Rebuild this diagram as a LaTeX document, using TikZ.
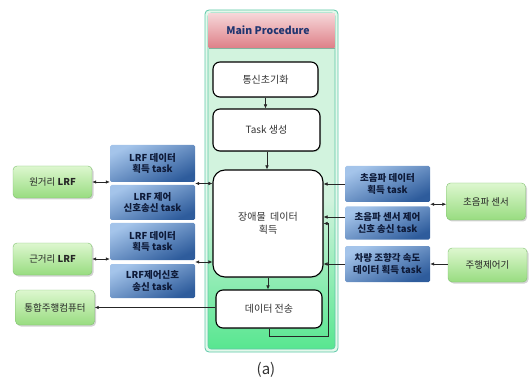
\documentclass[tikz,border=0pt]{standalone}
\usepackage{fontspec}
\setmainfont{Noto Sans CJK KR}
\usetikzlibrary{shadows,arrows.meta,calc}
\definecolor{panelline}{HTML}{5CC8A8}
\definecolor{panelpale}{HTML}{D2F3DE}
\definecolor{panelgreen}{HTML}{58E690}
\definecolor{pinkL}{HTML}{F6D6D8}
\definecolor{pinkD}{HTML}{DE8088}
\definecolor{headtext}{HTML}{1F3570}
\definecolor{blueL}{HTML}{A4C4EA}
\definecolor{blueD}{HTML}{2E5C9C}
\definecolor{greenL}{HTML}{DDF7CF}
\definecolor{greenD}{HTML}{98DC80}
\definecolor{greenline}{HTML}{80C070}
\definecolor{tasktext}{HTML}{0E1A38}
\begin{document}
\begin{tikzpicture}[x=1pt,y=-1pt,
  whitebox/.style={draw=black, line width=1.1pt, rounded corners=7pt, fill=white,
    drop shadow={opacity=0.25,shadow xshift=1pt,shadow yshift=-1pt},
    align=center, font=\fontsize{10}{12.5}\selectfont, text=black!80, inner sep=2pt},
  taskbox/.style={rectangle, rounded corners=1.5pt, top color=blueL, bottom color=blueD, shading angle=25,
    align=center, font=\fontsize{9.5}{11.5}\selectfont\bfseries, text=tasktext, inner sep=0.5pt,
    minimum width=85pt},
  greenbox/.style={draw=greenline, line width=0.4pt, rounded corners=4pt, top color=greenL, bottom color=greenD,
    drop shadow={opacity=0.35,shadow xshift=1.5pt,shadow yshift=-1.5pt},
    align=center, font=\fontsize{9.5}{11}\selectfont, text=black!85, inner sep=1pt, minimum width=79pt},
  conn/.style={line width=0.6pt, draw=black!85},
  tip/.style={-{Latex[length=4pt,width=3.5pt]}},
  tips/.style={{Latex[length=4pt,width=3.5pt]}-{Latex[length=4pt,width=3.5pt]}}
]
\useasboundingbox (0,0) rectangle (530,390);
% panel
\draw[panelline, line width=0.8pt, rounded corners=4pt, fill=panelpale!60!white] (205,10) rectangle (338,352);
\shade[rounded corners=3pt, top color=panelpale, bottom color=panelgreen, middle color=panelpale] (208,48) rectangle (335,349);
\draw[panelline, line width=0.6pt, rounded corners=3pt] (208,13) rectangle (335,349);
\shade[top color=pinkL, bottom color=pinkD] (208.5,13.5) rectangle (334.5,48);
\draw[panelline!70!pinkD, line width=0.5pt] (208.5,48) -- (334.5,48);
\node[font=\fontsize{10.5}{12}\selectfont\bfseries, text=headtext] (head) at (268,30) {Main Procedure};
% white boxes
\node[whitebox, minimum width=105pt, minimum height=35pt] (comm) at (265.5,79.5) {통신초기화};
\node[whitebox, minimum width=107pt, minimum height=42pt] (tgen) at (266.5,130) {Task 생성};
\node[whitebox, rounded corners=12pt, minimum width=110pt, minimum height=107pt] (big) at (268,223.5) {장애물\ \ 데이터\\획득};
\node[whitebox, minimum width=106pt, minimum height=38pt] (send) at (269,309) {데이터 전송};
% left tasks
\node[taskbox, minimum height=37pt] (t1) at (152.5,163.5) {LRF 데이터\\획득 task};
\node[taskbox, minimum height=35pt] (t2) at (152.5,202.5) {LRF 제어\\신호송신 task};
\node[taskbox, minimum height=37pt] (t3) at (152.5,241.5) {LRF 데이터\\획득 task};
\node[taskbox, minimum height=34pt] (t4) at (152.5,281) {LRF제어신호\\송신 task};
% right tasks
\node[taskbox, minimum height=36pt] (r1) at (387.5,184) {초음파 데이터\\획득 task};
\node[taskbox, minimum height=33pt] (r2) at (387.5,223) {초음파 센서 제어\\신호 송신 task};
\node[taskbox, minimum height=36pt] (r3) at (387.5,264) {차량 조향각 속도\\데이터 획득 task};
% green boxes
\node[greenbox, minimum height=32pt] (lfar) at (52.5,182) {원거리 \textbf{LRF}};
\node[greenbox, minimum height=32pt] (lnear) at (52.5,259) {근거리 \textbf{LRF}};
\node[greenbox, minimum height=35pt] (ipc) at (55,307.5) {통합주행컴퓨터};
\node[greenbox, minimum height=37pt] (usens) at (486,201.5) {초음파 센서};
\node[greenbox, minimum height=34pt] (drive) at (487.5,265) {주행제어기};
% flow arrows
\draw[conn,tip] (comm.south) -- (comm.south |- tgen.north);
\coordinate (tg) at ($(tgen.south)+(0.5,0)$);
\draw[conn,tip] (tg) -- (tg |- big.north);
\draw[conn,tip] (big.south) -- (big.south |- send.north);
\coordinate (loopA) at ($(send.south)+(0,8)$);
\coordinate (loopB) at ($(big.east)+(5,0)$);
\draw[conn,tip] (send.south) -- (loopA) -| (loopB) -- (big.east);
% left connectors
\coordinate (l12) at ($(t1.south east)!0.5!(t2.north east)$);
\coordinate (l34) at ($(t3.south east)!0.5!(t4.north east)$);
\draw[conn,tips] (l12) -- (l12 -| big.west);
\draw[conn,tips] (l34) -- (l34 -| big.west);
\draw[conn,tips] (lfar.east) -- (lfar.east -| t1.west);
\draw[conn,tips] (lnear.east) -- (lnear.east -| t3.west);
\draw[conn,tip] (send.west |- ipc.east) -- (ipc.east);
% right connectors
\coordinate (r2a) at ($(r2.west)+(0,-6)$);
\draw[conn,tip] (r1.west) -- (r1.west -| big.east);
\draw[conn,tip] (r2a) -- (r2a -| big.east);
\draw[conn,tip] (r3.west) -- (r3.west -| big.east);
\coordinate (r12) at ($(r1.south east)!0.5!(r2.north east)$);
\draw[conn,tips] (r12) -- (r12 -| usens.west);
\draw[conn,tip] (drive.west |- r3.east) -- (r3.east);
% caption
\node[font=\fontsize{15}{17}\selectfont, text=black!80] (cap) at (266,370) {(a)};
\end{tikzpicture}
\end{document}
